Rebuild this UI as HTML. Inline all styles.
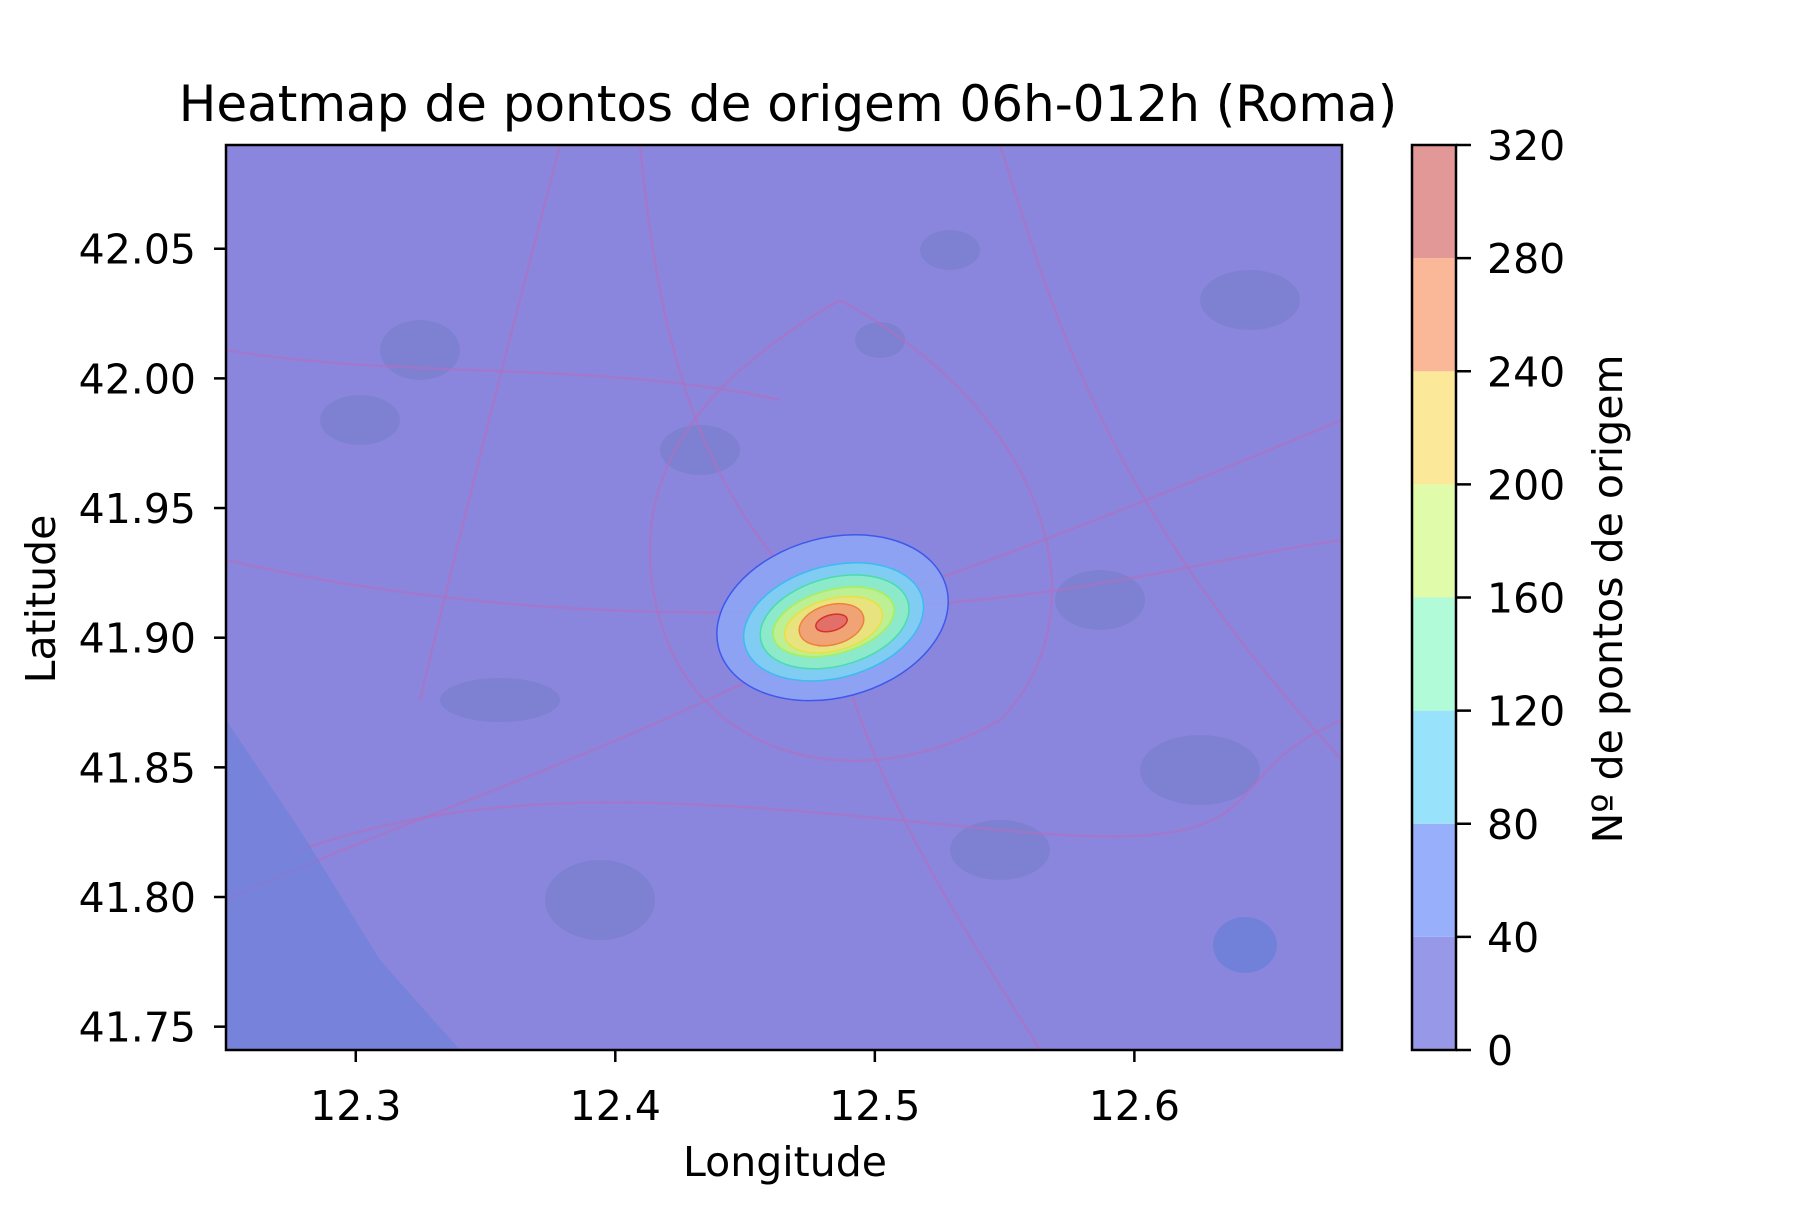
<!DOCTYPE html>
<html><head><meta charset="utf-8"><style>
html,body{margin:0;padding:0;background:#fff;}
svg text{font-family:"DejaVu Sans","Liberation Sans",sans-serif;fill:#000;}
</style></head><body>
<svg id="chart" width="1800" height="1200" xmlns="http://www.w3.org/2000/svg">
<text x="788" y="121" font-size="50" text-anchor="middle">Heatmap de pontos de origem 06h-012h (Roma)</text>
<g id="plot"></g>
<g id="xt"></g>
<g id="yt"></g>
<text x="785" y="1176" font-size="41" text-anchor="middle">Longitude</text>
<text transform="translate(55,599) rotate(-90)" font-size="41" text-anchor="middle">Latitude</text>
<g id="cb"></g>
<text transform="translate(1622,599) rotate(-90)" font-size="41" text-anchor="middle">Nº de pontos de origem</text>
</svg>
<script>
const xTicks=[12.3,12.4,12.5,12.6];
const xTickLabels=["12.3","12.4","12.5","12.6"];
const yTicks=[41.75,41.80,41.85,41.90,41.95,42.00,42.05];
const yTickLabels=["41.75","41.80","41.85","41.90","41.95","42.00","42.05"];
const levels=[40,80,120,160,200,240,280];
const centerLon=[12.4837,12.4841,12.4845,12.4841,12.4841,12.4833,12.4833];
const centerLat=[41.9077,41.9061,41.9061,41.9061,41.9050,41.9050,41.9057];
const radiusLon=[0.0454,0.0354,0.0293,0.0239,0.0193,0.0127,0.0062];
const radiusLat=[0.0308,0.0216,0.0170,0.0123,0.0100,0.0077,0.0031];
const cbLevels=[0,40,80,120,160,200,240,280,320];
const cbColors=["#9898e8","#98b0fb","#98e2fb","#b2fbd8","#e0fbaa","#fbe898","#fbb898","#e39898"];
const fillColors=["#8ea8f6","#7fd4f2","#8ef0c4","#c6f08c","#f0e27a","#f29a74","#e06868"];
const strokeColors=["#3050f0","#30c0f0","#40e0a0","#b0f040","#f0e030","#f07030","#d02020"];

const L=226,R=1342,T=145,B=1050;
const X0=12.25,X1=12.680,Y0=41.741,Y1=42.090;
const sx=v=>L+(v-X0)/(X1-X0)*(R-L);
const sy=v=>B-(v-Y0)/(Y1-Y0)*(B-T);
const NS="http://www.w3.org/2000/svg";
function mk(tag,attrs,parent){const e=document.createElementNS(NS,tag);for(const k in attrs)e.setAttribute(k,attrs[k]);parent.appendChild(e);return e;}

const plot=document.getElementById('plot');
const bg=mk('rect',{x:L,y:T,width:R-L,height:B-T,fill:'#8a86de'},plot);


const patches=[[500,700,60,22],[420,350,40,30],[880,340,25,18],[1250,300,50,30],[700,450,40,25],[1100,600,45,30],[1200,770,60,35],[600,900,55,40],[1000,850,50,30],[360,420,40,25],[950,250,30,20]];
patches.forEach(p=>{const e=mk('ellipse',{cx:p[0],cy:p[1],rx:p[2],ry:p[3],fill:'#6f7cc0',opacity:0.45},plot);});
const roads=["M226,560 C400,600 600,620 840,610 S1200,560 1342,540","M640,145 C660,350 700,500 830,615","M830,615 C870,800 980,950 1040,1050","M226,900 C400,820 600,760 830,640","M1342,420 C1150,500 1000,560 830,615","M840,300 C700,380 620,480 660,620 C700,760 860,800 1000,720 C1100,620 1060,420 840,300","M560,145 C520,300 480,450 420,700","M1000,145 C1050,300 1100,500 1342,760","M300,850 C500,780 700,800 1000,830 S1200,780 1342,720","M226,350 C400,380 600,360 780,400"];
roads.forEach(d=>{const p=mk('path',{d:d,fill:'none',stroke:'#b070c0','stroke-width':2.5,opacity:0.6},plot);});
const coast=mk('path',{d:"M226,720 L300,830 L380,960 L460,1050 L226,1050 Z",fill:'#6a80d8',opacity:0.6},plot);


const lake=mk('ellipse',{cx:1245,cy:945,rx:32,ry:28,fill:'#6a80d8',opacity:0.8},plot);



const ang=-15;
levels.forEach((lv,i)=>{
  const cx=sx(centerLon[i]),cy=sy(centerLat[i]);
  const rx=sx(centerLon[i]+radiusLon[i])-sx(centerLon[i]);
  const ry=sy(centerLat[i])-sy(centerLat[i]+radiusLat[i]);
  const e=mk('ellipse',{cx:cx,cy:cy,rx:rx,ry:ry,transform:`rotate(${ang} ${cx} ${cy})`,fill:fillColors[i],stroke:strokeColors[i],'stroke-width':1.5,opacity:0.85},plot);
  
  
});
const fr=mk('rect',{x:L,y:T,width:R-L,height:B-T,fill:'none',stroke:'#000','stroke-width':2.5},plot);



const xt=document.getElementById('xt');
xTicks.forEach((v,i)=>{const x=sx(v);
  mk('line',{x1:x,x2:x,y1:B,y2:B+12,stroke:'#000','stroke-width':2.5},xt);
  const t=mk('text',{x:x,y:B+70,'font-size':41,'text-anchor':'middle'},xt);t.textContent=xTickLabels[i];
  
  
});
const yt=document.getElementById('yt');
yTicks.forEach((v,i)=>{const y=sy(v);
  mk('line',{x1:L-12,x2:L,y1:y,y2:y,stroke:'#000','stroke-width':2.5},yt);
  const t=mk('text',{x:L-30,y:y+15,'font-size':41,'text-anchor':'end'},yt);t.textContent=yTickLabels[i];
  
  
});

const cb=document.getElementById('cb');
const CL=1412,CR=1456;
const cy=v=>B-(v-cbLevels[0])/(cbLevels[cbLevels.length-1]-cbLevels[0])*(B-T);
cbColors.forEach((c,i)=>{
  const r=mk('rect',{x:CL,y:cy(cbLevels[i+1]),width:CR-CL,height:cy(cbLevels[i])-cy(cbLevels[i+1]),fill:c},cb);
  
  
});
mk('rect',{x:CL,y:T,width:CR-CL,height:B-T,fill:'none',stroke:'#000','stroke-width':2.5},cb);
cbLevels.forEach(v=>{const y=cy(v);
  mk('line',{x1:CR,x2:CR+15,y1:y,y2:y,stroke:'#000','stroke-width':2.5},cb);
  const t=mk('text',{x:CR+31,y:y+15,'font-size':41},cb);t.textContent=String(v);
  
  
});
</script>
</body></html>
